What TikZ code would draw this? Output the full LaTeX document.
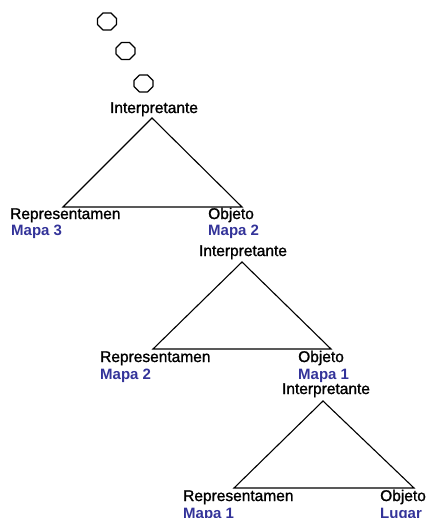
\documentclass[tikz,border=0pt]{standalone}
\usepackage{fontspec}
\setmainfont{Liberation Sans}
\newfontfamily\rolefont[FakeBold=1.3]{Liberation Sans}
\definecolor{mapblue}{RGB}{51,51,153}
\begin{document}
\begin{tikzpicture}[x=1pt,y=-1pt,
  tri/.style={draw=black,line width=1.1pt,line join=miter},
  bubble/.style={draw=black,line width=1.2pt,line join=round},
  role/.style={inner sep=0pt,anchor=base west,font=\rolefont\fontsize{15.5}{18}\selectfont},
  roletop/.style={inner sep=0pt,anchor=base,font=\rolefont\fontsize{15.5}{18}\selectfont},
  sub/.style={inner sep=0pt,anchor=base west,text=mapblue,font=\fontsize{15}{18}\selectfont\bfseries}]
\useasboundingbox (0,0) rectangle (425,518);

% thought bubbles (octagons)
\foreach \n/\cx/\cy in {o1/107/21.5, o2/125.5/51, o3/143.5/83.5}{
  \coordinate (\n) at (\cx,\cy);
  \draw[bubble] (\n) ++(-4,-8.5) -- ++(8,0) -- ++(5.5,5.5) -- ++(0,6)
     -- ++(-5.5,5.5) -- ++(-8,0) -- ++(-5.5,-5.5) -- ++(0,-6) -- cycle;
}

% first triad
\coordinate (a1) at (152,118);
\coordinate (l1) at (63,207);
\coordinate (r1) at (242,207);
\draw[tri] (a1) -- (l1) -- (r1) -- cycle;
\node[roletop] (i1) at (154,113) {Interpretante};
\node[role] (rep1) at (10,219) {Representamen};
\node[sub] (m3a) at (11,236) {Mapa 3};
\node[role] (obj1) at (208,219) {Objeto};
\node[sub] (m2a) at (208,236) {Mapa 2};

% second triad
\coordinate (a2) at (242,262);
\coordinate (l2) at (153,349);
\coordinate (r2) at (331,349);
\draw[tri] (a2) -- (l2) -- (r2) -- cycle;
\node[roletop] (i2) at (243,256) {Interpretante};
\node[role] (rep2) at (100,362) {Representamen};
\node[sub] (m2b) at (100,379) {Mapa 2};
\node[role] (obj2) at (298,362) {Objeto};
\node[sub] (m1a) at (298,379) {Mapa 1};

% third triad
\coordinate (a3) at (323,401);
\coordinate (l3) at (234,488);
\coordinate (r3) at (414,488);
\draw[tri] (a3) -- (l3) -- (r3) -- cycle;
\node[roletop] (i3) at (326,394) {Interpretante};
\node[role] (rep3) at (183,501) {Representamen};
\node[sub] (m1b) at (183,518) {Mapa 1};
\node[role] (obj3) at (380,501) {Objeto};
\node[sub] (lug) at (380,518) {Lugar};
\end{tikzpicture}
\end{document}
